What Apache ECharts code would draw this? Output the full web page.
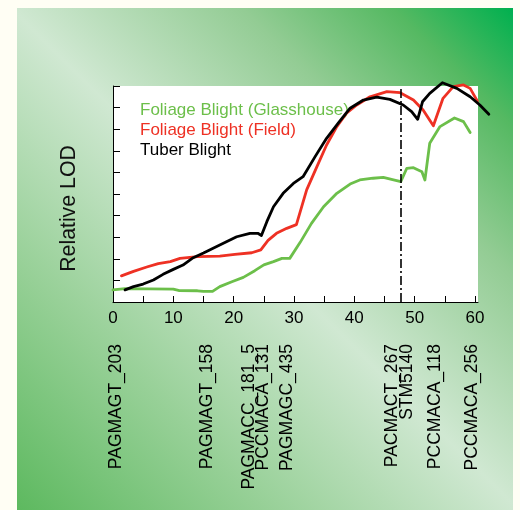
<!DOCTYPE html>
<html><head><meta charset="utf-8">
<script src="https://cdn.jsdelivr.net/npm/echarts@6/dist/echarts.min.js"></script>
<style>html,body{margin:0;padding:0;background:#fffef4}#c{width:520px;height:510px}</style>
</head><body><div id="c"></div><script>
const xTickLabels = [0, 10, 20, 30, 40, 50, 60];
const xTicks = [0, 5, 10, 15, 20, 25, 30, 35, 40, 45, 50, 55, 60];
const yTicks = [0, 1, 2, 3, 4, 5, 6, 7, 8, 9, 10];
const seriesNames = ['Foliage Blight (Glasshouse)', 'Foliage Blight (Field)', 'Tuber Blight'];
const glasshouse = [[0,0.56],[2,0.62],[10,0.60],[11,0.53],[14,0.52],[15,0.49],[16.5,0.49],[17.7,0.71],[19.7,0.94],[21.6,1.14],[23.5,1.45],[25,1.72],[26.6,1.87],[28,2.02],[29.3,2.02],[31,2.75],[32.9,3.64],[34.9,4.41],[37.1,5.03],[39.3,5.46],[40.9,5.65],[43.1,5.73],[44.8,5.77],[47.7,5.57],[48.7,6.19],[49.8,6.22],[51.2,6.03],[51.7,5.65],[52.5,7.35],[54.2,8.12],[56.6,8.52],[58.1,8.35],[59.2,7.85]];
const field = [[1.4,1.21],[3.4,1.42],[5.6,1.62],[7.5,1.78],[9.5,1.87],[11.1,2.02],[14,2.10],[17.7,2.12],[20.2,2.2],[23,2.28],[24.5,2.41],[25.7,2.85],[27.1,3.18],[28.8,3.41],[30.4,3.58],[32.1,5.19],[33.8,6.27],[35.4,7.27],[37.1,8.12],[38.7,8.74],[40.4,9.12],[42.6,9.50],[45.4,9.74],[47.6,9.69],[49.8,9.35],[51.4,8.89],[53.1,8.16],[54.7,9.43],[56.4,9.97],[58.1,10.05],[59.2,9.89],[60.4,9.3]];
const tuber = [[2,0.56],[3.4,0.71],[5,0.83],[6.7,1.02],[8.3,1.28],[10,1.51],[11.6,1.71],[13.3,2.05],[15,2.27],[16.6,2.49],[18.8,2.79],[20.5,3.02],[22.7,3.18],[24,3.18],[24.6,3.08],[25.5,3.72],[26.6,4.41],[28.2,5.03],[29.9,5.49],[31.5,5.8],[33.5,6.73],[35.4,7.58],[37.3,8.27],[39.3,8.97],[41.5,9.35],[43.7,9.48],[45.9,9.38],[48.1,9.12],[49.5,8.81],[50.5,8.46],[51.3,9.27],[52.5,9.66],[54.6,10.15],[57,9.89],[59.2,9.50],[60.8,9.12],[62.3,8.69]];
const markerNames = ['PAGMAGT_203', 'PAGMAGT_158', 'PAGMACC_181_5', 'PCCMACA_131', 'PAGMAGC_435', 'PACMACT_267', 'STM5140', 'PCCMACA_118', 'PCCMACA_256'];
const markerPos = [0.5, 15.6, 22.6, 24.9, 28.9, 46.2, 48.7, 53.4, 59.5];
const dividerX = 47.7;
const colors = ['#6cbf4a', '#ee3124', '#000000'];

const FONT = '"Liberation Sans", Arial, Helvetica, sans-serif';
const AX_MAX = 60.5, EXT_MAX = 62.5;
const GL = 113, GT = 86, GW = 365, GH = 216;
const pxPerUnit = GW / AX_MAX;

const chart = echarts.init(document.getElementById('c'), null, {renderer: 'canvas'});
const lineSeries = [glasshouse, field, tuber].map((d, i) => ({
  name: seriesNames[i], type: 'line', data: d, xAxisIndex: 2, yAxisIndex: 1,
  showSymbol: false, symbol: 'none', clip: false, smooth: false,
  lineStyle: {color: colors[i], width: 2.8, join: 'round', cap: 'round'},
  itemStyle: {color: colors[i]}, z: 3 + i,
  silent: true
}));
lineSeries[2].markLine = {
  silent: true, symbol: 'none', animation: false,
  label: {show: false},
  lineStyle: {color: '#000', width: 1.6, type: [9, 3, 2, 3]},
  data: [{xAxis: dividerX}]
};
chart.setOption({
  animation: false,
  backgroundColor: '#fffef4',
  textStyle: {fontFamily: FONT},
  graphic: [{
    type: 'rect', z: -100, silent: true,
    shape: {x: 17, y: 8, width: 496, height: 502},
    style: {fill: new echarts.graphic.LinearGradient(1, 0, 0, 1, [
      {offset: 0, color: '#00b04f'},
      {offset: 0.12, color: '#55b962'},
      {offset: 0.27, color: '#93cc94'},
      {offset: 0.5, color: '#d0e8d2'},
      {offset: 0.75, color: '#97d097'},
      {offset: 1, color: '#5db95f'}
    ])}
  }],
  grid: [
    {left: GL, top: GT, width: GW, height: GH, show: true, backgroundColor: '#ffffff', borderWidth: 0},
    {left: GL, top: GT, width: pxPerUnit * EXT_MAX, height: GH, show: false}
  ],
  legend: {
    orient: 'vertical', left: 130, top: 97, itemGap: 3, itemWidth: 0, itemHeight: 14,
    icon: 'none', selectedMode: false,
    data: seriesNames.map((n, i) => ({name: n, icon: 'none', textStyle: {color: colors[i], fontSize: 17, fontFamily: FONT}}))
  },
  xAxis: [{
    type: 'value', min: 0, max: AX_MAX, position: 'bottom', gridIndex: 0,
    axisLine: {show: true, onZero: false, lineStyle: {color: '#000', width: 1}},
    axisTick: {show: true, inside: true, length: 6, customValues: xTicks, lineStyle: {color: '#000'}},
    axisLabel: {show: true, customValues: xTickLabels, margin: 8, fontSize: 17, color: '#000', fontFamily: FONT},
    splitLine: {show: false}
  }, {
    type: 'value', min: 0, max: AX_MAX, position: 'bottom', gridIndex: 0,
    axisLine: {show: false, onZero: false}, axisTick: {show: false}, splitLine: {show: false},
    axisLabel: {show: true, customValues: markerPos, rotate: 90, margin: 42, fontSize: 17.5, color: '#000', fontFamily: FONT,
      formatter: v => { const k = markerPos.findIndex(p => Math.abs(p - v) < 1e-6); return k >= 0 ? markerNames[k] : ''; }}
  }, {
    type: 'value', min: 0, max: EXT_MAX, gridIndex: 1, show: false
  }],
  yAxis: [{
    type: 'value', min: 0, max: 10, gridIndex: 0,
    name: 'Relative LOD', nameLocation: 'middle', nameGap: 33,
    nameTextStyle: {fontSize: 21.3, color: '#111', fontFamily: FONT, padding: [0, 29, 0, 0]},
    axisLine: {show: true, onZero: false, lineStyle: {color: '#000', width: 1}},
    axisTick: {show: true, inside: true, length: 7, customValues: yTicks, lineStyle: {color: '#000'}},
    axisLabel: {show: false},
    splitLine: {show: false}
  }, {
    type: 'value', min: 0, max: 10, gridIndex: 1, show: false
  }],
  series: lineSeries
});
</script></body></html>
